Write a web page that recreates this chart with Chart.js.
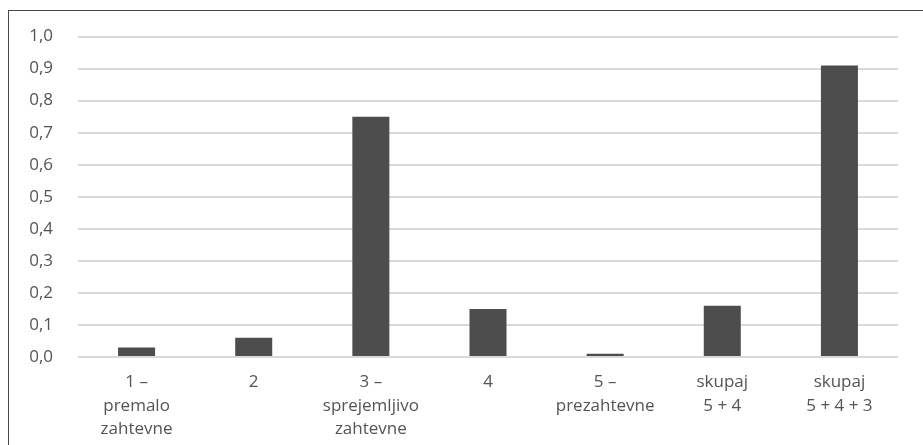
<!DOCTYPE html>
<html>
<head>
<meta charset="utf-8">
<script src="https://cdn.jsdelivr.net/npm/chart.js@4"></script>
<style>
  html, body { margin: 0; padding: 0; background: #ffffff; overflow: hidden; }
  #wrap { position: relative; width: 923px; height: 445px; }
  #frame { position: absolute; left: 8px; top: 10px; width: 1000px; height: 1000px;
           border-left: 1px solid #474747; border-top: 1px solid #474747; box-sizing: border-box; }
  canvas { position: absolute; left: 0; top: 0; }
</style>
</head>
<body>
<div id="wrap">
  <div id="frame"></div>
  <canvas id="c" width="923" height="445"></canvas>
</div>
<script>
// Ocene zahtevnosti (delež odgovorov)
const categories = [
  ["1 –", "premalo", "zahtevne"],
  "2",
  ["3 –", "sprejemljivo", "zahtevne"],
  "4",
  ["5 –", "prezahtevne"],
  ["skupaj", "5 + 4"],
  ["skupaj", "5 + 4 + 3"]
];
const shares = [0.03, 0.06, 0.75, 0.15, 0.01, 0.16, 0.91];
const yTicks = [0, 0.1, 0.2, 0.3, 0.4, 0.5, 0.6, 0.7, 0.8, 0.9, 1.0];

const labelFont = { family: "'Open Sans', 'Noto Sans', sans-serif", size: 17, lineHeight: 1.36 };
const textColor = '#545454';

new Chart(document.getElementById('c'), {
  type: 'bar',
  data: {
    labels: categories,
    datasets: [{
      data: shares,
      backgroundColor: '#4d4d4d',
      borderWidth: 0,
      categoryPercentage: 1,
      barPercentage: 0.316
    }]
  },
  options: {
    responsive: false,
    animation: false,
    layout: { padding: { top: 32, right: 25, bottom: 0, left: 0 } },
    plugins: { legend: { display: false }, tooltip: { enabled: false } },
    scales: {
      x: {
        grid: { display: false, drawTicks: false },
        border: { display: false },
        ticks: { color: textColor, font: labelFont, padding: 14, maxRotation: 0, autoSkip: false },
        afterFit: (s) => { s.height = 88; }
      },
      y: {
        min: 0,
        max: 1,
        afterBuildTicks: (s) => { s.ticks = yTicks.map(v => ({ value: v })); },
        grid: { color: '#d9d9d9', lineWidth: 2, drawTicks: false },
        border: { display: false },
        ticks: {
          color: textColor,
          font: labelFont,
          padding: 25,
          callback: (v) => Number(v).toFixed(1).replace('.', ',')
        },
        afterFit: (s) => { s.width = 78; }
      }
    }
  }
});
</script>
</body>
</html>
